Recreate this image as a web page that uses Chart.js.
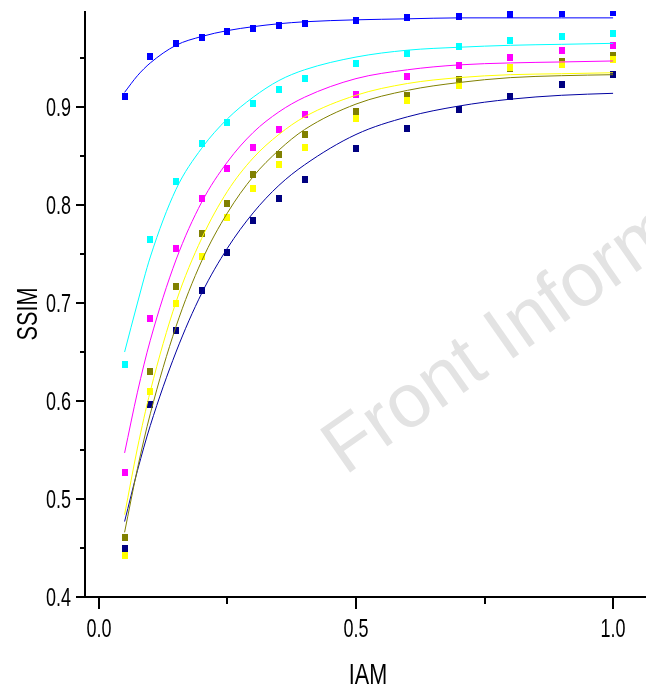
<!DOCTYPE html>
<html>
<head>
<meta charset="utf-8">
<script src="https://cdn.jsdelivr.net/npm/chart.js@4.4.1/dist/chart.umd.min.js"></script>
<style>
  html, body { margin: 0; padding: 0; background: #fff; }
  #wrap { width: 646px; height: 687px; position: relative; }
</style>
</head>
<body>
<div id="wrap"><canvas id="ssimChart" width="646" height="687"></canvas></div>
<script>
// measured IAM positions
const iamValues = [0.05, 0.1, 0.15, 0.2, 0.25, 0.3, 0.35, 0.4, 0.5, 0.6, 0.7, 0.8, 0.9, 1.0];

// measured SSIM per series
const blueVals    = [0.911, 0.952, 0.965, 0.971, 0.977, 0.980, 0.983, 0.985, 0.988, 0.991, 0.992, 0.994, 0.995, 0.996];
const cyanVals    = [0.637, 0.765, 0.824, 0.863, 0.884, 0.904, 0.918, 0.929, 0.944, 0.955, 0.962, 0.968, 0.972, 0.975];
const magentaVals = [0.527, 0.684, 0.756, 0.807, 0.837, 0.859, 0.877, 0.892, 0.913, 0.931, 0.942, 0.951, 0.958, 0.963];
const yellowVals  = [0.442, 0.610, 0.700, 0.747, 0.787, 0.817, 0.841, 0.859, 0.888, 0.907, 0.922, 0.940, 0.943, 0.949];
const oliveVals   = [0.461, 0.630, 0.717, 0.771, 0.802, 0.831, 0.852, 0.872, 0.895, 0.912, 0.928, 0.939, 0.946, 0.953];
const navyVals    = [0.450, 0.596, 0.672, 0.713, 0.752, 0.784, 0.807, 0.826, 0.858, 0.878, 0.897, 0.911, 0.923, 0.933];

// fitted curves
const fitX       = [0.05, 0.075, 0.1, 0.15, 0.2, 0.25, 0.3, 0.35, 0.4, 0.5, 0.6, 0.7, 0.8, 0.9, 1.0];
const blueFit    = [0.915, 0.932, 0.945, 0.963, 0.972, 0.978, 0.982, 0.985, 0.987, 0.989, 0.990, 0.991, 0.991, 0.991, 0.991];
const cyanFit    = [0.650, 0.700, 0.747, 0.816, 0.858, 0.888, 0.910, 0.927, 0.938, 0.951, 0.958, 0.961, 0.963, 0.964, 0.965];
const magentaFit = [0.547, 0.609, 0.662, 0.744, 0.803, 0.844, 0.874, 0.895, 0.910, 0.929, 0.938, 0.943, 0.945, 0.946, 0.947];
const yellowFit  = [0.484, 0.552, 0.610, 0.701, 0.766, 0.814, 0.848, 0.872, 0.890, 0.912, 0.924, 0.930, 0.933, 0.934, 0.935];
const oliveFit   = [0.466, 0.531, 0.587, 0.676, 0.743, 0.792, 0.829, 0.856, 0.877, 0.903, 0.917, 0.925, 0.930, 0.932, 0.933];
const navyFit    = [0.477, 0.529, 0.575, 0.650, 0.710, 0.756, 0.792, 0.820, 0.841, 0.872, 0.890, 0.901, 0.908, 0.912, 0.914];

// axis ticks
const xTickValues = [0, 0.25, 0.5, 0.75, 1.0];
const xTickLabels = ['0.0', '', '0.5', '', '1.0'];
const yTickValues = [0.4, 0.45, 0.5, 0.55, 0.6, 0.65, 0.7, 0.75, 0.8, 0.85, 0.9, 0.95];
const yTickLabels = ['0.4', '', '0.5', '', '0.6', '', '0.7', '', '0.8', '', '0.9', ''];

const FONT = "'Liberation Sans', Arial, sans-serif";

// small filled rectangle used as marker
function makeMarker(color) {
    const c = document.createElement('canvas');
    c.width = 6;
    c.height = 7;
    const g = c.getContext('2d');
    g.fillStyle = color;
    g.fillRect(0, 0, 6, 7);
    return c;
}

function pointSet(vals, color) {
    return {
        data: iamValues.map((x, i) => ({ x: x, y: vals[i] })),
        pointStyle: makeMarker(color),
        pointRadius: 4,
        showLine: false,
        order: 2
    };
}

function fitSet(vals, color) {
    return {
        data: fitX.map((x, i) => ({ x: x, y: vals[i] })),
        showLine: true,
        borderColor: color,
        borderWidth: 1,
        pointRadius: 0,
        cubicInterpolationMode: 'monotone',
        fill: false,
        order: 1
    };
}

// draw condensed text (the figure uses a narrow face)
function narrowText(ctx, text, x, y, size, align, rotate) {
    ctx.save();
    ctx.translate(x, y);
    if (rotate) ctx.rotate(-Math.PI / 2);
    ctx.scale(0.72, 1);
    ctx.font = size + 'px ' + FONT;
    ctx.textAlign = align;
    ctx.textBaseline = 'alphabetic';
    ctx.fillStyle = '#000';
    ctx.fillText(text, 0, 0);
    ctx.restore();
}

const watermarkPlugin = {
    id: 'watermark',
    beforeDatasetsDraw(chart) {
        const ctx = chart.ctx;
        ctx.save();
        ctx.translate(345, 476);
        ctx.rotate(-35 * Math.PI / 180);
        ctx.font = '76px ' + FONT;
        ctx.fillStyle = '#e3e3e3';
        ctx.textBaseline = 'alphabetic';
        ctx.fillText('Front Inform', 0, 0);
        ctx.restore();
    }
};

const axesPlugin = {
    id: 'axesPlugin',
    afterDraw(chart) {
        const { ctx, chartArea: a, scales: { x, y } } = chart;
        ctx.save();
        ctx.strokeStyle = '#000';
        ctx.lineWidth = 2;
        ctx.beginPath();
        ctx.moveTo(a.left, a.top);
        ctx.lineTo(a.left, a.bottom);
        ctx.lineTo(a.right, a.bottom);
        ctx.stroke();

        xTickValues.forEach((v, i) => {
            const px = Math.round(x.getPixelForValue(v));
            const len = xTickLabels[i] ? 12 : 7;
            ctx.beginPath();
            ctx.moveTo(px, a.bottom);
            ctx.lineTo(px, a.bottom + len);
            ctx.stroke();
            if (xTickLabels[i]) narrowText(ctx, xTickLabels[i], px, 637, 25, 'center');
        });

        yTickValues.forEach((v, i) => {
            const py = Math.round(y.getPixelForValue(v));
            const len = yTickLabels[i] ? 9 : 5;
            ctx.beginPath();
            ctx.moveTo(a.left, py);
            ctx.lineTo(a.left - len, py);
            ctx.stroke();
            if (yTickLabels[i]) narrowText(ctx, yTickLabels[i], 71, py + 9, 25, 'right');
        });

        narrowText(ctx, 'IAM', 368, 684, 30, 'center');
        narrowText(ctx, 'SSIM', 37, 314, 30, 'center', true);
        ctx.restore();
    }
};

new Chart(document.getElementById('ssimChart'), {
    type: 'scatter',
    data: {
        datasets: [
            pointSet(blueVals, '#0000ff'),
            pointSet(cyanVals, '#00ffff'),
            pointSet(magentaVals, '#ff00ff'),
            pointSet(yellowVals, '#ffff00'),
            pointSet(oliveVals, '#808000'),
            pointSet(navyVals, '#000080'),
            fitSet(blueFit, '#0000ff'),
            fitSet(cyanFit, '#00ffff'),
            fitSet(magentaFit, '#ff00ff'),
            fitSet(yellowFit, '#ffff00'),
            fitSet(oliveFit, '#808000'),
            fitSet(navyFit, '#0000a0')
        ]
    },
    options: {
        responsive: false,
        animation: false,
        layout: { autoPadding: false, padding: { left: 85, top: 11, right: 0, bottom: 90 } },
        scales: {
            x: { type: 'linear', min: -0.027, max: 1.064, display: false },
            y: { type: 'linear', min: 0.4, max: 0.998, display: false }
        },
        plugins: {
            legend: { display: false },
            tooltip: { enabled: false }
        }
    },
    plugins: [watermarkPlugin, axesPlugin]
});
</script>
</body>
</html>
